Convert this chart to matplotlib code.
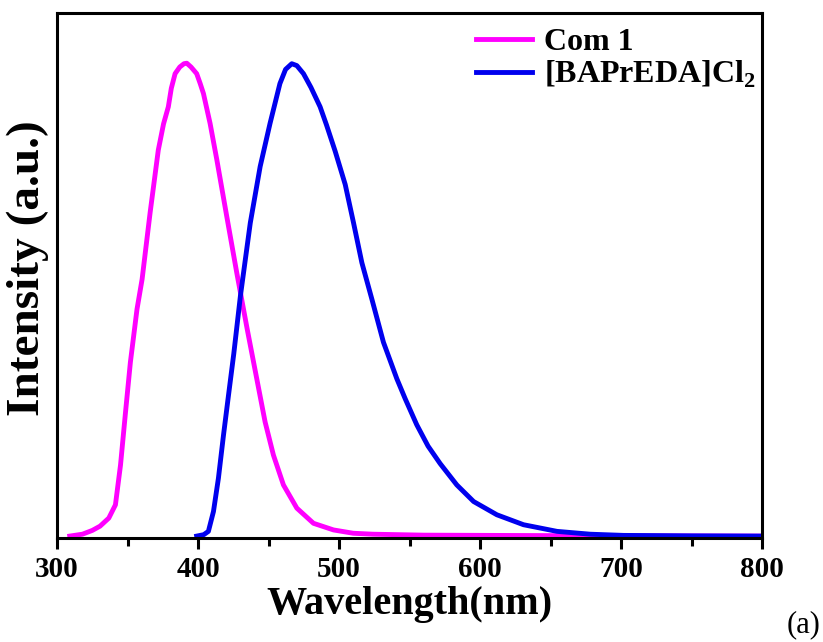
import matplotlib
matplotlib.use("Agg")
import matplotlib.pyplot as plt
from matplotlib.ticker import MultipleLocator

plt.rcParams['font.family'] = 'Liberation Serif'
plt.rcParams['mathtext.fontset'] = 'custom'
plt.rcParams['mathtext.rm'] = 'Liberation Serif:bold'
plt.rcParams['mathtext.bf'] = 'Liberation Serif:bold'

# Com 1 emission (normalised)
com1_wl = [309, 318, 325, 330.5, 336.7, 341.4, 345, 348.5, 352, 356.7, 360.3, 366,
           371.8, 375.5, 378.9, 381, 383.7, 387, 390, 392, 395, 399, 401.5, 403.8,
           408.5, 413.3, 420.3, 427.4, 434.8, 441.6, 447.5, 453.4, 460.5, 470, 481.8,
           496, 510, 524, 560, 650, 800]
com1_int = [0.0, 0.004, 0.012, 0.021, 0.038, 0.066, 0.15, 0.26, 0.367, 0.479, 0.542, 0.683,
            0.815, 0.87, 0.906, 0.945, 0.976, 0.99, 0.997, 0.998, 0.99, 0.976, 0.955, 0.934,
            0.871, 0.794, 0.675, 0.556, 0.437, 0.332, 0.241, 0.171, 0.108, 0.059, 0.027,
            0.013, 0.006, 0.004, 0.002, 0.001, 0.0]

# [BAPrEDA]Cl2 emission (normalised)
bap_wl = [399, 404, 407.3, 410.9, 414.4, 418, 421.5, 425.3, 430, 437, 444, 451, 458, 462,
          466.4, 470, 474.7, 480, 486.5, 491, 497.2, 504.3, 510.2, 516.1, 523.2, 531.4,
          540.9, 546.8, 555, 563, 571.6, 583.4, 595.3, 611.8, 630.7, 654.4, 678, 701.6,
          750, 800]
bap_int = [0.0, 0.003, 0.01, 0.052, 0.122, 0.213, 0.296, 0.385, 0.507, 0.661, 0.78, 0.871,
           0.955, 0.985, 0.997, 0.993, 0.976, 0.947, 0.906, 0.868, 0.812, 0.742, 0.661,
           0.577, 0.5, 0.409, 0.332, 0.29, 0.235, 0.19, 0.153, 0.108, 0.073, 0.045, 0.024,
           0.010, 0.004, 0.0015, 0.0005, 0.0]

fig = plt.figure(figsize=(8.23, 6.42), dpi=100)
ax = fig.add_axes([0.0693, 0.162, 0.857, 0.817])

ax.plot(com1_wl, com1_int, color='#ff00ff', lw=3.5, label='Com 1')
ax.plot(bap_wl, bap_int, color='#0000ee', lw=3.5, label=r'[BAPrEDA]Cl$_2$')

ax.set_xlim(300, 800)
ax.set_ylim(-0.004, 1.103)
ax.xaxis.set_major_locator(MultipleLocator(100))
ax.xaxis.set_minor_locator(MultipleLocator(50))
ax.set_yticks([])

for s in ax.spines.values():
    s.set_linewidth(2.2)
ax.tick_params(axis='x', which='major', direction='out', length=8, width=2.2, pad=5,
               labelsize=21)
ax.tick_params(axis='x', which='minor', direction='out', length=6, width=2.2)
for lab in ax.get_xticklabels():
    lab.set_fontweight('bold')

ax.set_xlabel('Wavelength(nm)', fontsize=29, fontweight='bold', labelpad=2)
ax.set_ylabel('Intensity (a.u.)', fontsize=34, fontweight='bold')
ax.yaxis.set_label_coords(-0.012, 0.515)

ax.legend(loc='upper right', bbox_to_anchor=(1.017, 1.01), frameon=False,
          handlelength=1.75, handletextpad=0.35, labelspacing=0.07, borderaxespad=0.2,
          prop={'weight': 'bold', 'size': 23})

fig.text(0.997, 0.005, '(a)', fontsize=22, ha='right', va='bottom')

fig.savefig('out.png', dpi=100)
